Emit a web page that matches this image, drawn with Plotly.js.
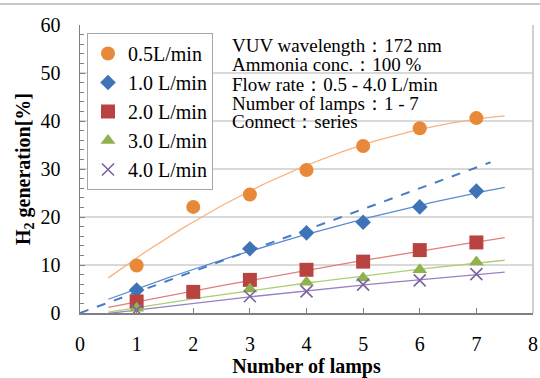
<!DOCTYPE html>
<html>
<head>
<meta charset="utf-8">
<script src="https://cdn.plot.ly/plotly-3.0.1.min.js"></script>
<style>
html,body{margin:0;padding:0;background:#fff;}
#chart{width:540px;height:378px;}
</style>
</head>
<body>
<div id="chart"></div>
<script>
// ---- Data ----
const seriesNames = ["0.5L/min", "1.0 L/min", "2.0 L/min", "3.0 L/min", "4.0 L/min"];
const x05 = [1, 2, 3, 4, 5, 6, 7];
const y05 = [9.9, 22.1, 24.7, 29.8, 34.8, 38.5, 40.6];
const x10 = [1, 3, 4, 5, 6, 7];
const y10 = [4.8, 13.4, 16.7, 18.9, 22.1, 25.4];
const x20 = [1, 2, 3, 4, 5, 6, 7];
const y20 = [2.4, 4.4, 6.9, 9.0, 10.7, 13.1, 14.7];
const x30 = [1, 3, 4, 5, 6, 7];
const y30 = [1.0, 5.0, 6.4, 7.3, 9.0, 10.6];
const x40 = [1, 3, 4, 5, 6, 7];
const y40 = [0.6, 3.5, 4.5, 5.9, 6.8, 8.1];
// dashed reference line for 1.0 L/min (read endpoints)
const dashX = [0, 7.25];
const dashY = [0, 31.4];
const trendRange = [0.5, 7.5];
const infoLines = [
  "VUV wavelength\uFF1A172 nm",
  "Ammonia conc.\uFF1A100 %",
  "Flow rate\uFF1A0.5 - 4.0 L/min",
  "Number of lamps\uFF1A1 - 7",
  "Connect\uFF1Aseries"
];

// ---- Styles ----
const markerColors = ["#E8893A", "#3F73B8", "#B94340", "#8FB24F", "#7E62A0"];
const trendColors = ["#F8B27E", "#5B8BD0", "#E0807C", "#AECF74", "#9A80C4"];
const symbols = ["circle", "diamond", "square", "triangle-up", "x-thin"];
const sizes = [14, 12, 14, 13, 12];
const font = "Liberation Serif";

// quadratic least-squares fit (like a spreadsheet polynomial trendline)
function polyfit2(xs, ys) {
  let s = [0,0,0,0,0], t = [0,0,0];
  xs.forEach((x, i) => {
    for (let k = 0; k < 5; k++) s[k] += Math.pow(x, k);
    for (let k = 0; k < 3; k++) t[k] += ys[i] * Math.pow(x, k);
  });
  const A = [[s[0], s[1], s[2], t[0]], [s[1], s[2], s[3], t[1]], [s[2], s[3], s[4], t[2]]];
  for (let i = 0; i < 3; i++) {
    for (let j = i + 1; j < 3; j++) {
      const f = A[j][i] / A[i][i];
      for (let k = i; k < 4; k++) A[j][k] -= f * A[i][k];
    }
  }
  const c = [0,0,0];
  for (let i = 2; i >= 0; i--) {
    let v = A[i][3];
    for (let k = i + 1; k < 3; k++) v -= A[i][k] * c[k];
    c[i] = v / A[i][i];
  }
  return c;
}

const xs = [x05, x10, x20, x30, x40];
const ys = [y05, y10, y20, y30, y40];
const traces = [];

xs.forEach((xv, i) => {
  const c = polyfit2(xv, ys[i]);
  const tx = [], ty = [];
  for (let k = 0; k <= 70; k++) {
    const x = trendRange[0] + (trendRange[1] - trendRange[0]) * k / 70;
    tx.push(x); ty.push(c[0] + c[1] * x + c[2] * x * x);
  }
  traces.push({x: tx, y: ty, mode: "lines", line: {color: trendColors[i], width: 1.3},
               showlegend: false, hoverinfo: "skip"});
});
traces.push({x: dashX, y: dashY, mode: "lines", line: {color: "#4A7CC4", width: 2, dash: "dash"},
             showlegend: false, hoverinfo: "skip"});

xs.forEach((xv, i) => {
  traces.push({
    x: xv, y: ys[i], mode: "markers", name: seriesNames[i],
    marker: {symbol: symbols[i], size: sizes[i], color: markerColors[i],
             line: {color: markerColors[i], width: symbols[i] === "x-thin" ? 1.6 : 0}}
  });
});

const annotations = infoLines.map((t, i) => ({
  text: t, xref: "paper", yref: "paper",
  x: (230 - 80) / 453, xanchor: "left",
  y: (313 - [46, 65, 84, 103, 121][i]) / 288, yanchor: "middle",
  showarrow: false, font: {color: "#000"}
}));

const layout = {
  width: 540, height: 378,
  margin: {l: 80, r: 7, t: 25, b: 65},
  font: {family: font, size: 19},
  xaxis: {
    range: [0, 8], dtick: 1, tick0: 0,
    showgrid: false, zeroline: false,
    showline: true, linecolor: "#7f7f7f", linewidth: 1.5,
    ticks: "inside", ticklen: 5, tickcolor: "#7f7f7f",
    ticklabelstandoff: 12,
    tickfont: {color: "#000", size: 20},
    title: {text: "<b>Number of lamps</b>", font: {color: "#000", size: 20}, standoff: 6}
  },
  yaxis: {
    range: [0, 60], dtick: 10,
    showgrid: true, gridcolor: "#d9d9d9", gridwidth: 1.5,
    zeroline: false,
    showline: true, linecolor: "#7f7f7f", linewidth: 1.5,
    ticks: "inside", ticklen: 5, tickcolor: "#7f7f7f",
    minor: {dtick: 2, ticks: "inside", ticklen: 4, tickcolor: "#7f7f7f", showgrid: false},
    ticklabelstandoff: 14,
    tickfont: {color: "#000", size: 20},
    title: {text: "<b>H<sub>2</sub> generation[%]</b>", font: {color: "#000", size: 20}, standoff: 4}
  },
  legend: {
    x: (87 - 80) / 453, y: 1 - (33 - 25) / 288, xanchor: "left", yanchor: "top",
    bgcolor: "#fff", bordercolor: "#a6a6a6", borderwidth: 1,
    font: {color: "#000", size: 20}, itemwidth: 30
  },
  annotations: annotations,
  shapes: [
    {type: "line", xref: "paper", yref: "paper", x0: 1, x1: 1, y0: 0, y1: 1,
     line: {color: "#bfbfbf", width: 1.5}},
    {type: "line", xref: "paper", yref: "paper", x0: -80 / 453, x1: 1 + 7 / 453,
     y0: 1 + 21 / 288, y1: 1 + 21 / 288, line: {color: "#c8c8c8", width: 2}}
  ],
  showlegend: true
};

function draw() {
  return Plotly.newPlot("chart", traces, layout, {staticPlot: true});
}
// make sure the regular and bold serif faces are loaded before drawing
let p;
try {
  p = Promise.all([
    document.fonts.load('400 19px "Liberation Serif"', "0.5L/min VUV"),
    document.fonts.load('400 20px "Liberation Serif"', "0123"),
    document.fonts.load('700 20px "Liberation Serif"', "Number")
  ]).catch(() => null);
} catch (e) { p = Promise.resolve(); }
p.then(draw).then(() => Plotly.relayout("chart", {}));
</script>
</body>
</html>
